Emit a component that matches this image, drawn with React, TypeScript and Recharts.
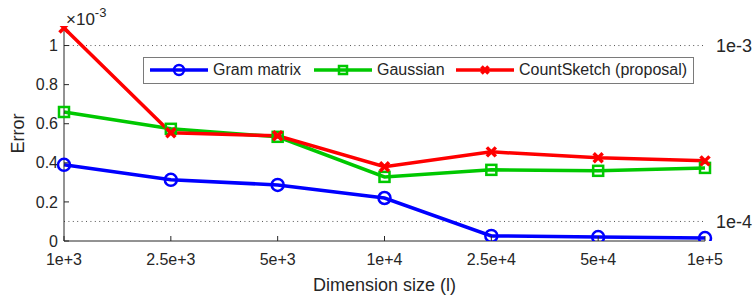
import React from "react";
import { LineChart, Line, XAxis, YAxis, ReferenceLine, Label } from "recharts";

const dims = ["1e+3", "2.5e+3", "5e+3", "1e+4", "2.5e+4", "5e+4", "1e+5"];
// errors in units of 1e-3
const gram = [0.39, 0.313, 0.287, 0.22, 0.026, 0.02, 0.015];
const gaussian = [0.66, 0.574, 0.533, 0.328, 0.364, 0.359, 0.374];
const countSketch = [1.09, 0.554, 0.538, 0.38, 0.456, 0.426, 0.41];
const yTicks = [0, 0.2, 0.4, 0.6, 0.8, 1];
const refLevels = [
  { value: 1, label: "1e-3" },
  { value: 0.1, label: "1e-4" },
];
const seriesNames = ["Gram matrix", "Gaussian", "CountSketch (proposal)"];

const BLUE = "#0000ff";
const GREEN = "#00c800";
const RED = "#ff0000";
const INK = "#262626";
const FONT = "'Liberation Sans', Arial, Helvetica, sans-serif";

const data = dims.map((d, i) => ({
  dim: d,
  gram: gram[i],
  gaussian: gaussian[i],
  countSketch: countSketch[i],
}));

const CircleDot = (p: any) => (
  <circle key={p.key} cx={p.cx} cy={p.cy} r={6} fill="none" stroke={BLUE} strokeWidth={2.5} />
);
const SquareDot = (p: any) => (
  <rect key={p.key} x={p.cx - 5} y={p.cy - 5} width={10} height={10} fill="none" stroke={GREEN} strokeWidth={2.5} />
);
const CrossDot = (p: any) => (
  <g key={p.key} stroke={RED} strokeWidth={3.5}>
    <line x1={p.cx - 4.5} y1={p.cy - 4.5} x2={p.cx + 4.5} y2={p.cy + 4.5} />
    <line x1={p.cx - 4.5} y1={p.cy + 4.5} x2={p.cx + 4.5} y2={p.cy - 4.5} />
  </g>
);

const legendIcons = [
  { color: BLUE, mark: (c: string) => <circle cx={29} cy={10} r={5} fill="none" stroke={c} strokeWidth={2.5} /> },
  { color: GREEN, mark: (c: string) => <rect x={25} y={6} width={8} height={8} fill="none" stroke={c} strokeWidth={2.5} /> },
  {
    color: RED,
    mark: (c: string) => (
      <g stroke={c} strokeWidth={3.5}>
        <line x1={25.5} y1={6.5} x2={32.5} y2={13.5} />
        <line x1={25.5} y1={13.5} x2={32.5} y2={6.5} />
      </g>
    ),
  },
];
const legendLefts = [6, 170, 312];

function LegendBox() {
  return (
    <div
      style={{
        position: "absolute",
        left: 143,
        top: 57,
        width: 549,
        height: 25,
        border: "1px solid #7a7a7a",
        background: "#fff",
        fontFamily: FONT,
        fontSize: 16,
        color: INK,
      }}
    >
      {seriesNames.map((name, i) => (
        <div key={name} style={{ position: "absolute", left: legendLefts[i], top: 2, display: "flex", alignItems: "center", height: 20 }}>
          <svg width={58} height={20}>
            <line x1={0} y1={10} x2={58} y2={10} stroke={legendIcons[i].color} strokeWidth={3.5} />
            {legendIcons[i].mark(legendIcons[i].color)}
          </svg>
          <span style={{ marginLeft: 5, whiteSpace: "nowrap" }}>{name}</span>
        </div>
      ))}
    </div>
  );
}

export default function App() {
  return (
    <div style={{ position: "absolute", left: 0, top: 0, width: 754, height: 298, background: "#fff" }}>
      <LineChart width={754} height={298} data={data} margin={{ top: 26, right: 49, bottom: 0, left: 0 }}>
        <XAxis
          dataKey="dim"
          padding={{ left: 0, right: 0 }}
          interval={0}
          height={57}
          tickSize={-5}
          tickMargin={18}
          stroke={INK}
          tick={{ fill: INK, fontSize: 16, fontFamily: FONT }}
        >
          <Label
            content={() => (
              <text x={384.5} y={291} textAnchor="middle" fill={INK} fontSize={18} fontFamily={FONT}>
                Dimension size (l)
              </text>
            )}
          />
        </XAxis>
        <YAxis
          width={64}
          domain={[0, 1.1]}
          ticks={yTicks}
          allowDataOverflow
          tickSize={-5}
          tickMargin={11}
          stroke={INK}
          tick={{ fill: INK, fontSize: 16, fontFamily: FONT }}
          tickFormatter={(v: number) => String(v)}
        >
          <Label
            content={() => (
              <g>
                <text x={24} y={133.5} transform="rotate(-90 24 133.5)" textAnchor="middle" fill={INK} fontSize={18} fontFamily={FONT}>
                  Error
                </text>
                <text x={66} y={25} fill={INK} fontSize={17} fontFamily={FONT}>
                  ×10
                  <tspan fontSize={13} dy={-8}>-3</tspan>
                </text>
              </g>
            )}
          />
        </YAxis>
        {refLevels.map((r) => (
          <ReferenceLine
            key={r.label}
            y={r.value}
            stroke="#555"
            strokeDasharray="1 3.4"
            strokeWidth={1}
            label={{ value: r.label, position: "right", offset: 11, fill: INK, fontSize: 18, fontFamily: FONT }}
          />
        ))}
        <Line dataKey="gram" stroke={BLUE} strokeWidth={3.5} dot={CircleDot} isAnimationActive={false} />
        <Line dataKey="gaussian" stroke={GREEN} strokeWidth={3.5} dot={SquareDot} isAnimationActive={false} />
        <Line dataKey="countSketch" stroke={RED} strokeWidth={3.5} dot={CrossDot} isAnimationActive={false} />
      </LineChart>
      <LegendBox />
    </div>
  );
}
